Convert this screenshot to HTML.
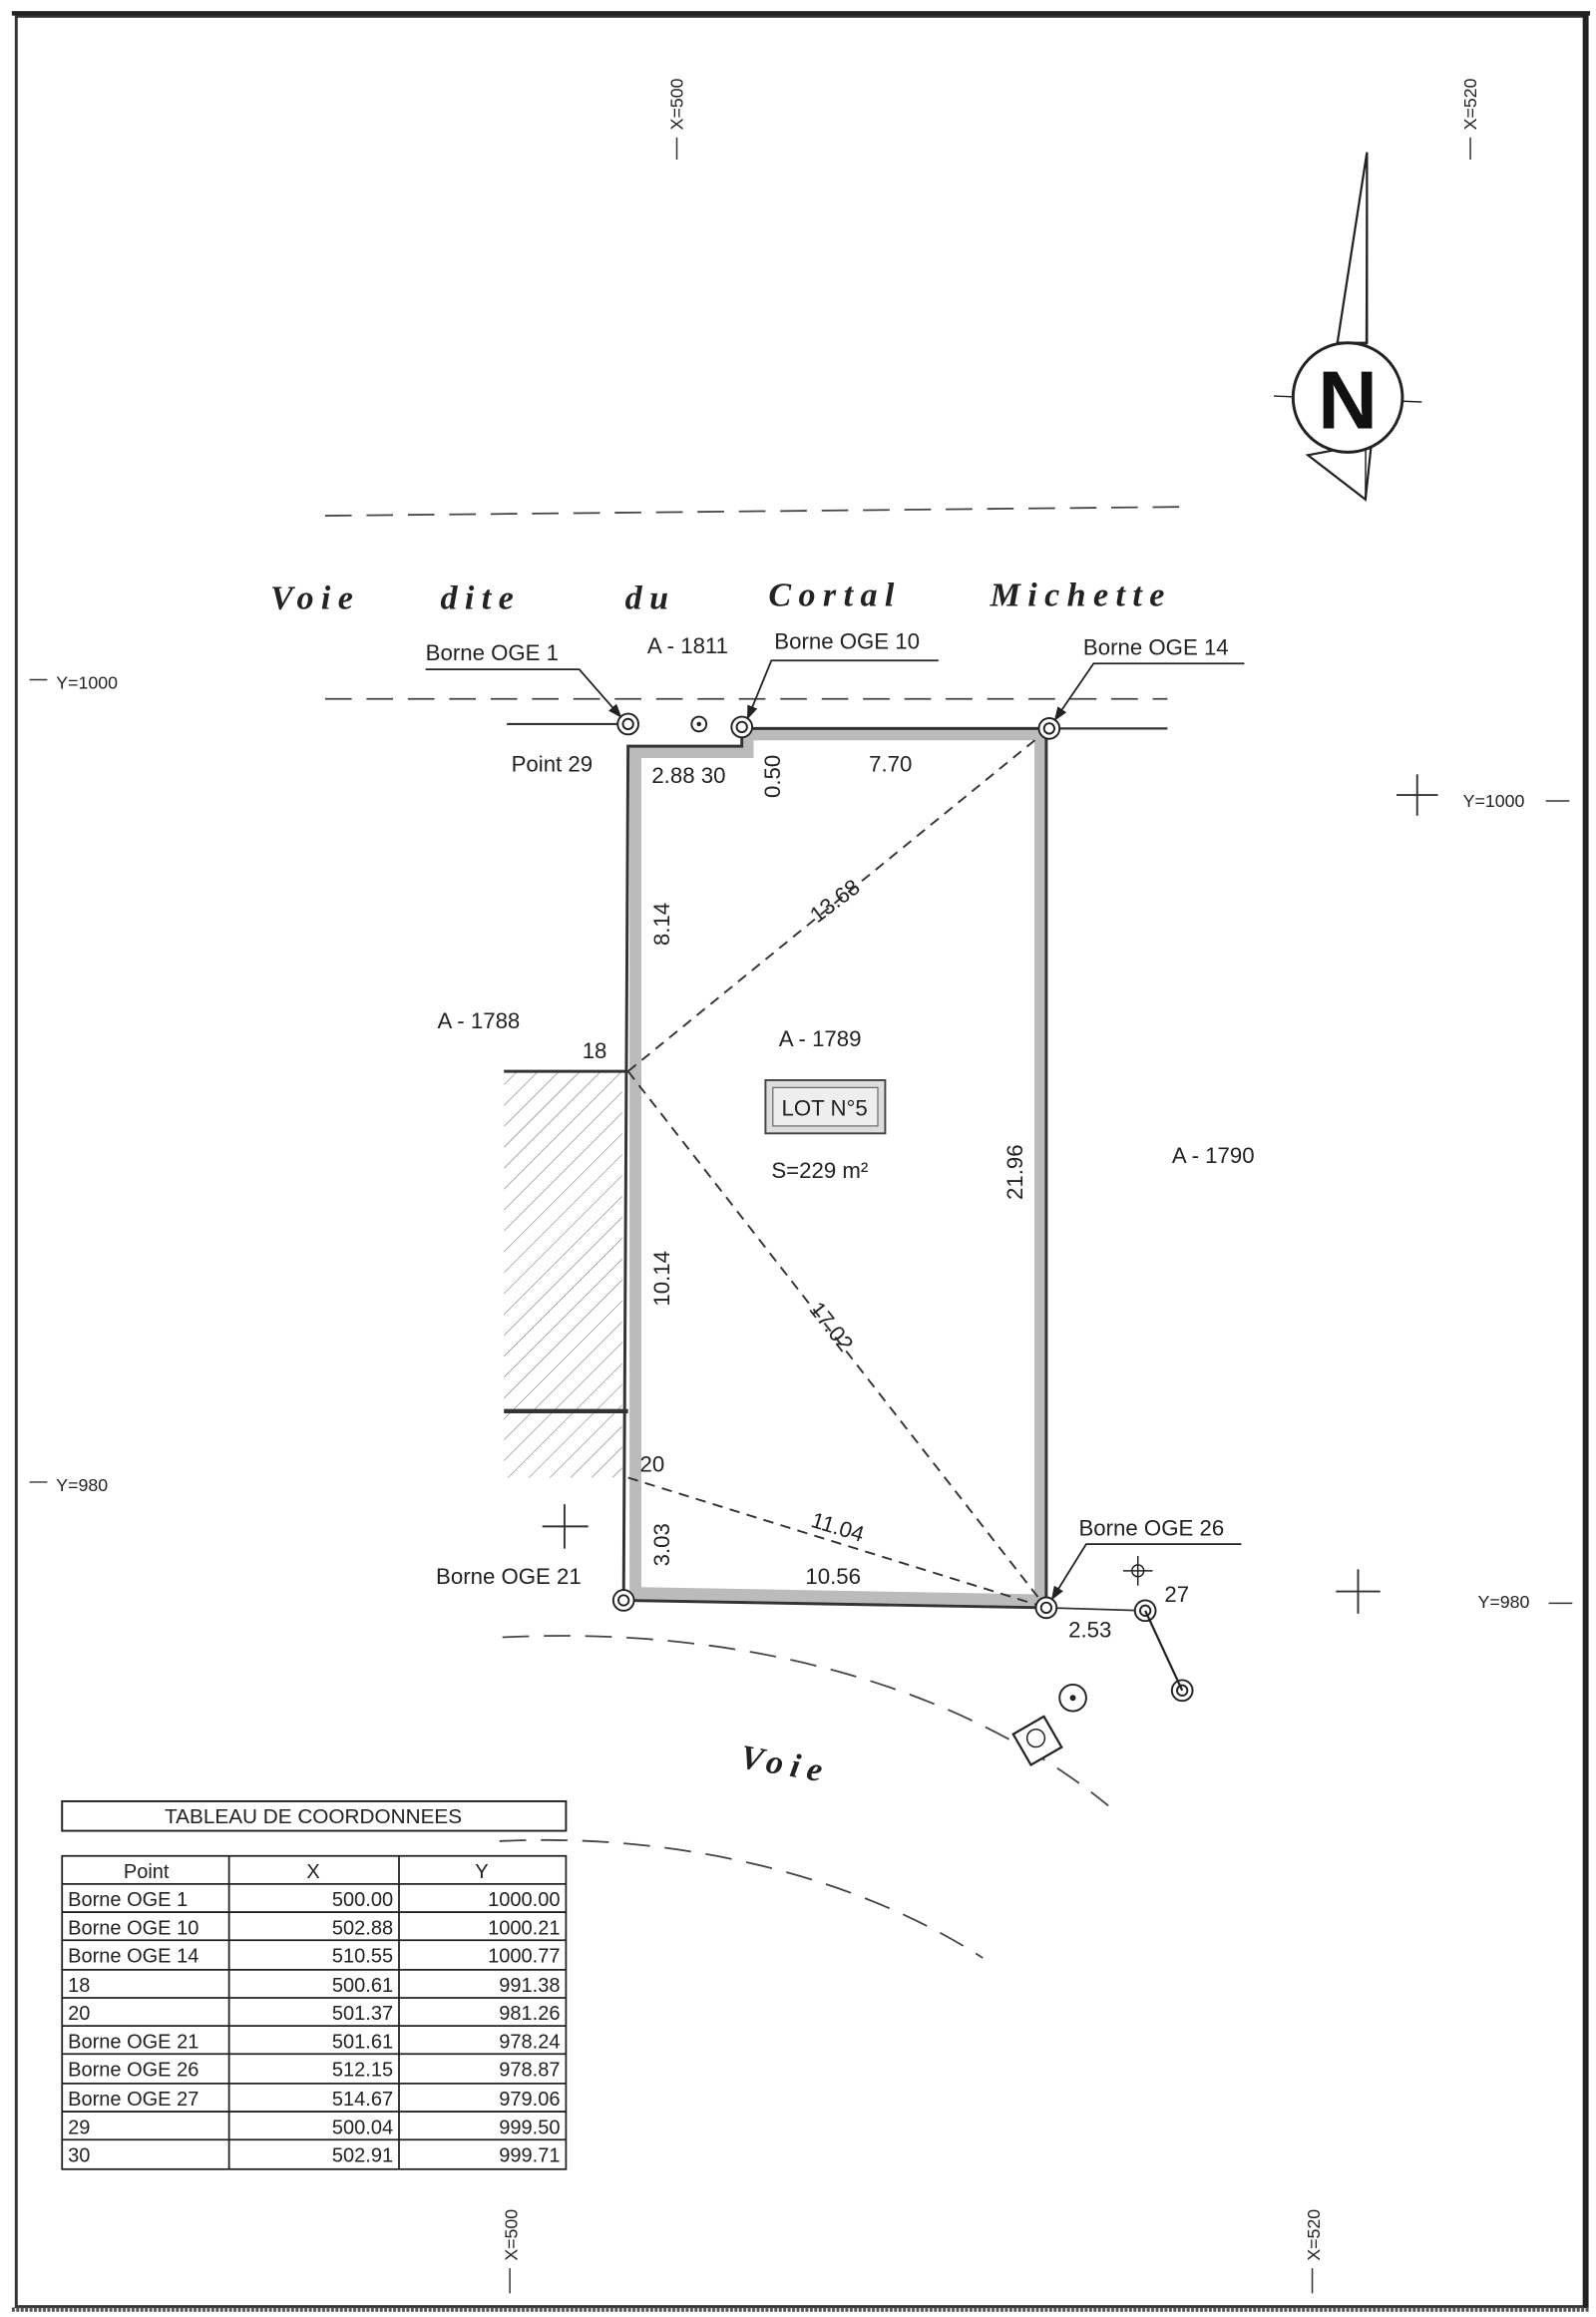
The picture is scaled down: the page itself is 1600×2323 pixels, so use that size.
<!DOCTYPE html>
<html><head><meta charset="utf-8"><style>
html,body{margin:0;padding:0;background:#fff;}
svg{display:block;}
text{font-family:"Liberation Sans",sans-serif;fill:#222;}
text.road{font-family:"Liberation Serif",serif;font-style:italic;font-weight:bold;}
</style></head><body>
<svg width="1600" height="2323" viewBox="0 0 1080 1568" xmlns="http://www.w3.org/2000/svg">
<defs>
<pattern id="h" width="10" height="10" patternUnits="userSpaceOnUse" patternTransform="rotate(45)"><line x1="0" y1="0" x2="0" y2="10" stroke="#666" stroke-width="0.7"/></pattern>
<marker id="a" markerWidth="8" markerHeight="8" refX="7" refY="4" orient="auto"><path d="M0,1 L8,4 L0,7z" fill="#222"/></marker>
</defs>
<rect x="0" y="0" width="1080" height="1568" fill="#fff"/>
<rect x="11" y="11" width="1062" height="1550" fill="none" stroke="#333" stroke-width="2"/>
<line x1="8" y1="9" x2="1076" y2="9" stroke="#222" stroke-width="3"/>
<line x1="1073" y1="9" x2="1073" y2="1562" stroke="#222" stroke-width="4"/>
<line x1="8" y1="1563" x2="1076" y2="1563" stroke="#555" stroke-width="3" stroke-dasharray="2 1"/>
<g font-size="12">
<text transform="translate(462,88) rotate(-90)">X=500</text>
<line x1="458" y1="93" x2="458" y2="108" stroke="#333"/>
<text transform="translate(999,88) rotate(-90)">X=520</text>
<line x1="995" y1="93" x2="995" y2="108" stroke="#333"/>
<text transform="translate(350,1530) rotate(-90)">X=500</text>
<line x1="345" y1="1535" x2="345" y2="1552" stroke="#333"/>
<text transform="translate(893,1530) rotate(-90)">X=520</text>
<line x1="888" y1="1535" x2="888" y2="1552" stroke="#333"/>
<line x1="20" y1="460" x2="32" y2="460" stroke="#333"/><text x="38" y="466">Y=1000</text>
<line x1="20" y1="1003" x2="32" y2="1003" stroke="#333"/><text x="38" y="1009">Y=980</text>
<text x="990" y="546">Y=1000</text><line x1="1046" y1="542" x2="1062" y2="542" stroke="#333"/>
<text x="1000" y="1088">Y=980</text><line x1="1048" y1="1085" x2="1064" y2="1085" stroke="#333"/>
</g>
<g stroke="#333" stroke-width="1.3">
<line x1="945" y1="538" x2="973" y2="538"/><line x1="959" y1="524" x2="959" y2="552"/>
<line x1="904" y1="1077" x2="934" y2="1077"/><line x1="919" y1="1062" x2="919" y2="1092"/>
<line x1="367" y1="1033" x2="398" y2="1033"/><line x1="382" y1="1018" x2="382" y2="1048"/>
</g>
<path d="M925,103 L905,232 L925,232 Z" fill="#fff" stroke="#222" stroke-width="1.5"/>
<path d="M885,308 L928,300 L924,338 Z" fill="#fff" stroke="#222" stroke-width="1.5"/>
<line x1="925" y1="103" x2="924" y2="338" stroke="#222"/>
<line x1="862" y1="268" x2="962" y2="272" stroke="#222"/>
<circle cx="912" cy="269" r="37" fill="#fff" stroke="#222" stroke-width="2"/>
<text x="912" y="290" font-size="56" font-weight="bold" text-anchor="middle" style="fill:#111">N</text>
<g stroke="#444" stroke-width="1.2" stroke-dasharray="18 10" fill="none">
<line x1="220" y1="349" x2="800" y2="343"/>
<line x1="220" y1="473" x2="790" y2="473"/>
<path d="M340,1108 C500,1100 650,1140 750,1222"/>
<path d="M338,1246 C460,1240 580,1270 665,1325"/>
</g>
<line x1="343" y1="490" x2="425" y2="490" stroke="#333" stroke-width="1.5"/>
<line x1="710" y1="493" x2="790" y2="493" stroke="#333" stroke-width="1.5"/>
<line x1="708" y1="1088" x2="775" y2="1090" stroke="#333" stroke-width="1.2"/>
<g font-size="23" letter-spacing="5">
<text class="road" x="183" y="412">Voie</text><text class="road" x="298" y="412">dite</text><text class="road" x="423" y="412">du</text><text class="road" x="520" y="410">Cortal</text><text class="road" x="670" y="410">Michette</text>
<text class="road" x="500" y="1196" transform="rotate(10 500 1196)">Voie</text>
</g>
<rect x="341" y="725" width="80" height="275" fill="url(#h)"/>
<line x1="341" y1="725" x2="425" y2="725" stroke="#333" stroke-width="2"/>
<line x1="341" y1="955" x2="425" y2="955" stroke="#333" stroke-width="3"/>
<path d="M430,509 L506,509 L506,497 L704,497 L704,1083 L430,1078 Z" fill="none" stroke="#bbb" stroke-width="8"/>
<path d="M425,505 L502,505 L502,493 L708,493 L708,1088 L422,1083 Z" fill="none" stroke="#333" stroke-width="2"/>
<g stroke="#333" stroke-width="1.3" stroke-dasharray="7 5">
<line x1="425" y1="725" x2="710" y2="493"/>
<line x1="425" y1="725" x2="708" y2="1088"/>
<line x1="425" y1="1000" x2="708" y2="1088"/>
</g>
<g fill="#fff" stroke="#222" stroke-width="1.3">
<circle cx="425" cy="490" r="7"/><circle cx="425" cy="490" r="3.5"/>
<circle cx="502" cy="492" r="7"/><circle cx="502" cy="492" r="3.5"/>
<circle cx="710" cy="493" r="7"/><circle cx="710" cy="493" r="3.5"/>
<circle cx="422" cy="1083" r="7"/><circle cx="422" cy="1083" r="3.5"/>
<circle cx="708" cy="1088" r="7"/><circle cx="708" cy="1088" r="3.5"/>
<circle cx="775" cy="1090" r="7"/><circle cx="775" cy="1090" r="3.5"/>
<circle cx="800" cy="1144" r="7"/><circle cx="800" cy="1144" r="3.5"/>
<circle cx="473" cy="490" r="5"/>
<circle cx="726" cy="1149" r="9"/>
</g>
<circle cx="473" cy="490" r="1.5" fill="#222"/><circle cx="726" cy="1149" r="2" fill="#222"/>
<line x1="775" y1="1090" x2="800" y2="1144" stroke="#222" stroke-width="1.5"/>
<g transform="rotate(-30 702 1178)"><rect x="690" y="1166" width="24" height="24" fill="#fff" stroke="#222" stroke-width="1.5"/><circle cx="702" cy="1176" r="6" fill="none" stroke="#222"/></g>
<g stroke="#222"><circle cx="770" cy="1063" r="4" fill="none"/><line x1="760" y1="1063" x2="780" y2="1063"/><line x1="770" y1="1053" x2="770" y2="1073"/></g>
<g stroke="#222" stroke-width="1.2" fill="none">
<polyline points="288,453 392,453 420,485" marker-end="url(#a)"/>
<polyline points="635,447 522,447 506,486" marker-end="url(#a)"/>
<polyline points="842,449 740,449 714,487" marker-end="url(#a)"/>
<polyline points="840,1045 735,1045 712,1082" marker-end="url(#a)"/>
</g>
<g font-size="15">
<text x="288" y="447">Borne OGE 1</text>
<text x="438" y="442">A - 1811</text>
<text x="524" y="439">Borne OGE 10</text>
<text x="733" y="443">Borne OGE 14</text>
<text x="346" y="522">Point 29</text>
<text x="441" y="530">2.88 30</text>
<text transform="translate(528,540) rotate(-90)">0.50</text>
<text x="588" y="522">7.70</text>
<text transform="translate(553,625) rotate(-37)">13.68</text>
<text transform="translate(453,640) rotate(-90)">8.14</text>
<text x="296" y="696">A - 1788</text>
<text x="394" y="716">18</text>
<text x="527" y="708">A - 1789</text>
<text transform="translate(692,812) rotate(-90)">21.96</text>
<text x="793" y="787">A - 1790</text>
<text x="522" y="797">S=229 m²</text>
<text transform="translate(453,884) rotate(-90)">10.14</text>
<text transform="translate(547,886) rotate(52)">17.02</text>
<text x="433" y="996">20</text>
<text transform="translate(453,1060) rotate(-90)">3.03</text>
<text transform="translate(548,1033) rotate(17)">11.04</text>
<text x="545" y="1072">10.56</text>
<text x="295" y="1072">Borne OGE 21</text>
<text x="730" y="1039">Borne OGE 26</text>
<text x="788" y="1084">27</text>
<text x="723" y="1108">2.53</text>
</g>
<rect x="518" y="731" width="81" height="36" fill="#ddd" stroke="#444" stroke-width="1.3"/>
<rect x="523" y="736" width="71" height="26" fill="#eee" stroke="#666" stroke-width="0.8"/>
<text x="558" y="755" font-size="15" text-anchor="middle">LOT N°5</text>
<rect x="42" y="1219" width="341" height="20" fill="#fff" stroke="#222" stroke-width="1.3"/>
<text x="212" y="1234" font-size="14" text-anchor="middle">TABLEAU DE COORDONNEES</text>
<g stroke="#222" stroke-width="1.2" fill="none">
<rect x="42" y="1256" width="341" height="212"/>
<line x1="155" y1="1256" x2="155" y2="1468"/><line x1="270" y1="1256" x2="270" y2="1468"/>
<line x1="42" y1="1275" x2="383" y2="1275"/><line x1="42" y1="1294" x2="383" y2="1294"/><line x1="42" y1="1313" x2="383" y2="1313"/><line x1="42" y1="1333" x2="383" y2="1333"/><line x1="42" y1="1352" x2="383" y2="1352"/><line x1="42" y1="1371" x2="383" y2="1371"/><line x1="42" y1="1390" x2="383" y2="1390"/><line x1="42" y1="1410" x2="383" y2="1410"/><line x1="42" y1="1429" x2="383" y2="1429"/><line x1="42" y1="1448" x2="383" y2="1448"/>
</g>
<g font-size="13.5">
<text x="99" y="1271" text-anchor="middle">Point</text><text x="212" y="1271" text-anchor="middle">X</text><text x="326" y="1271" text-anchor="middle">Y</text>
<text x="46" y="1290">Borne OGE 1</text><text x="266" y="1290" text-anchor="end">500.00</text><text x="379" y="1290" text-anchor="end">1000.00</text>
<text x="46" y="1309">Borne OGE 10</text><text x="266" y="1309" text-anchor="end">502.88</text><text x="379" y="1309" text-anchor="end">1000.21</text>
<text x="46" y="1328">Borne OGE 14</text><text x="266" y="1328" text-anchor="end">510.55</text><text x="379" y="1328" text-anchor="end">1000.77</text>
<text x="46" y="1348">18</text><text x="266" y="1348" text-anchor="end">500.61</text><text x="379" y="1348" text-anchor="end">991.38</text>
<text x="46" y="1367">20</text><text x="266" y="1367" text-anchor="end">501.37</text><text x="379" y="1367" text-anchor="end">981.26</text>
<text x="46" y="1386">Borne OGE 21</text><text x="266" y="1386" text-anchor="end">501.61</text><text x="379" y="1386" text-anchor="end">978.24</text>
<text x="46" y="1405">Borne OGE 26</text><text x="266" y="1405" text-anchor="end">512.15</text><text x="379" y="1405" text-anchor="end">978.87</text>
<text x="46" y="1425">Borne OGE 27</text><text x="266" y="1425" text-anchor="end">514.67</text><text x="379" y="1425" text-anchor="end">979.06</text>
<text x="46" y="1444">29</text><text x="266" y="1444" text-anchor="end">500.04</text><text x="379" y="1444" text-anchor="end">999.50</text>
<text x="46" y="1463">30</text><text x="266" y="1463" text-anchor="end">502.91</text><text x="379" y="1463" text-anchor="end">999.71</text>
</g>
</svg>
</body></html>
